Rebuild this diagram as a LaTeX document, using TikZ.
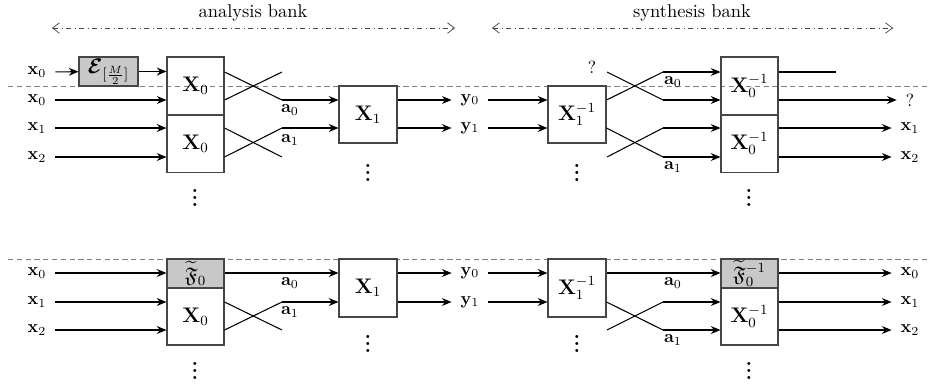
\documentclass[tikz,border=0pt]{standalone}
\usepackage{amssymb}
\usepackage{amsmath}
\usepackage{tikz}
\usetikzlibrary{arrows.meta, positioning, calc}
\definecolor{blkgray} {RGB}{200, 200, 200}
\definecolor{edgegray}{RGB}{ 70,  70,  70}

\tikzset{
	blk/.style={draw=edgegray, semithick, inner sep=0pt, font=\large, minimum width=11.4mm, minimum height=11.6mm},
	halfblk/.style={blk, fill=blkgray, minimum height=5.8mm},
	sig/.style={inner xsep=5pt, inner ysep=1pt},
	more/.style={inner sep=0pt, font=\large\bfseries},
	flow/.style={semithick, -{Stealth[length=5.5pt, width=4.5pt]}},
	wire/.style={semithick},
	bank/.style={draw=edgegray, dash dot, {Straight Barb[length=4pt, width=6pt]}-{Straight Barb[length=4pt, width=6pt]}},
	sep/.style={draw=gray, densely dashed}
}

\begin{document}
\begin{tikzpicture}[x=0.2mm, y=-0.2mm]
	\useasboundingbox (0,0) rectangle (931,384);

	% titles
	\node[font=\fontsize{10.5}{12}\selectfont] (ta) at (253,13) {analysis bank};
	\node[font=\fontsize{10.5}{12}\selectfont] (ts) at (692,13) {synthesis bank};
	\coordinate (ta1) at (52,28);  \coordinate (ta2) at (455,28);
	\coordinate (ts1) at (492,28); \coordinate (ts2) at (893,28);
	\draw[bank] (ta1) -- (ta2);
	\draw[bank] (ts1) -- (ts2);

	% separators
	\coordinate (s1l) at (8,86);  \coordinate (s1r) at (931,86);
	\coordinate (s2l) at (8,259); \coordinate (s2r) at (931,259);
	\draw[sep] (s1l) -- (s1r);
	\draw[sep] (s2l) -- (s2r);

	%%% upper diagram, analysis
	\node[sig] (ue) at (37,72)  {$\mathbf{x}_0$};
	\node[sig] (u0) at (37,100) {$\mathbf{x}_0$};
	\node[sig] (u1) at (37,128) {$\mathbf{x}_1$};
	\node[sig] (u2) at (37,157) {$\mathbf{x}_2$};
	\node[halfblk, minimum width=11.8mm] (E) at (108.5,71.5) {$\boldsymbol{\mathcal{E}}_{[\frac{M}{2}]}$};
	\node[blk] (X0a) at (195.5,86)    {$\mathbf{X}_0$};
	\node[blk] (X0b) at (195.5,143.5) {$\mathbf{X}_0$};
	\node[blk, minimum width=11.6mm, minimum height=11.4mm] (X1a) at (368,114.5) {$\mathbf{X}_1$};
	\node[sig] (uy0) at (470,100) {$\mathbf{y}_0$};
	\node[sig] (uy1) at (470,128) {$\mathbf{y}_1$};

	\draw[flow] (ue) -- (E);
	\draw[flow] (E) -- (E -| X0a.west);
	\draw[flow] (u0) -- (u0 -| X0a.west);
	\draw[flow] (u1) -- (u1 -| X0b.west);
	\draw[flow] (u2) -- (u2 -| X0b.west);

	\coordinate (ua) at (282,72);  \coordinate (ub) at (282,100);
	\coordinate (uc) at (282,128); \coordinate (ud) at (282,157);
	\draw[wire] (X0a.east |- ue) -- (ub);
	\draw[wire] (X0a.east |- u0) -- (ua);
	\draw[wire] (X0b.east |- u1) -- (ud);
	\draw[wire] (X0b.east |- u2) -- (uc);
	\draw[flow] (ub) -- (ub -| X1a.west);
	\draw[flow] (uc) -- (uc -| X1a.west);
	\node (ua0) at (290,110) {$\mathbf{a}_0$};
	\node (ua1) at (290,140) {$\mathbf{a}_1$};

	\draw[flow] (X1a.east |- uy0) -- (uy0);
	\draw[flow] (X1a.east |- uy1) -- (uy1);

	\node[more] (ud1) at (195,193) {\vdots};
	\node[more] (ud2) at (368,168) {\vdots};

	%%% upper diagram, synthesis
	\node[blk, minimum width=11.6mm, minimum height=11.4mm] (Y1a) at (577,114.5) {$\mathbf{X}_1^{-1}$};
	\node[blk] (Y0a) at (749.5,86)    {$\mathbf{X}_0^{-1}$};
	\node[blk] (Y0b) at (749.5,143.5) {$\mathbf{X}_0^{-1}$};
	\draw[flow] (uy0) -- (uy0 -| Y1a.west);
	\draw[flow] (uy1) -- (uy1 -| Y1a.west);

	\coordinate (va) at (607,72);  \coordinate (vb) at (663,72);
	\coordinate (vc) at (663,100); \coordinate (vd) at (663,128);
	\coordinate (ve) at (663,157); \coordinate (vf) at (607,157);
	\node (vq) at (592,67) {?};
	\draw[wire] (Y1a.east |- uy0) -- (vb);
	\draw[wire] (va) -- (vc);
	\draw[wire] (Y1a.east |- uy1) -- (ve);
	\draw[wire] (vf) -- (vd);
	\draw[flow] (vb) -- (vb -| Y0a.west);
	\draw[flow] (vc) -- (vc -| Y0a.west);
	\draw[flow] (vd) -- (vd -| Y0b.west);
	\draw[flow] (ve) -- (ve -| Y0b.west);
	\node (va0) at (673,82)  {$\mathbf{a}_0$};
	\node (va1) at (673,167) {$\mathbf{a}_1$};

	\coordinate (vend) at (836,72);
	\node[sig] (vo0) at (910,100) {?};
	\node[sig] (vo1) at (910,128) {$\mathbf{x}_1$};
	\node[sig] (vo2) at (910,157) {$\mathbf{x}_2$};
	\draw[wire] (Y0a.east |- vb) -- (vend);
	\draw[flow] (Y0a.east |- vo0) -- (vo0);
	\draw[flow] (Y0b.east |- vo1) -- (vo1);
	\draw[flow] (Y0b.east |- vo2) -- (vo2);

	\node[more] (vd1) at (577,168) {\vdots};
	\node[more] (vd2) at (749,193) {\vdots};

	%%% lower diagram, analysis
	\node[sig] (l0) at (37,273) {$\mathbf{x}_0$};
	\node[sig] (l1) at (37,302) {$\mathbf{x}_1$};
	\node[sig] (l2) at (37,330) {$\mathbf{x}_2$};
	\node[halfblk] (F) at (195.5,273.5) {$\widetilde{\mathfrak{F}}_0$};
	\node[blk, minimum height=11.4mm] (X0c) at (195.5,316.5) {$\mathbf{X}_0$};
	\node[blk, minimum width=11.6mm, minimum height=11.6mm] (X1b) at (368,288) {$\mathbf{X}_1$};
	\node[sig] (ly0) at (470,273) {$\mathbf{y}_0$};
	\node[sig] (ly1) at (470,302) {$\mathbf{y}_1$};

	\draw[flow] (l0) -- (l0 -| F.west);
	\draw[flow] (l1) -- (l1 -| X0c.west);
	\draw[flow] (l2) -- (l2 -| X0c.west);

	\coordinate (la) at (282,302); \coordinate (lb) at (282,330);
	\draw[flow] (F.east |- l0) -- (l0 -| X1b.west);
	\draw[wire] (X0c.east |- l1) -- (lb);
	\draw[wire] (X0c.east |- l2) -- (la);
	\draw[flow] (la) -- (la -| X1b.west);
	\node (la0) at (290,283) {$\mathbf{a}_0$};
	\node (la1) at (290,312) {$\mathbf{a}_1$};

	\draw[flow] (X1b.east |- ly0) -- (ly0);
	\draw[flow] (X1b.east |- ly1) -- (ly1);

	\node[more] (ld1) at (195,366) {\vdots};
	\node[more] (ld2) at (368,339) {\vdots};

	%%% lower diagram, synthesis
	\node[blk, minimum width=11.6mm, minimum height=11.6mm] (Y1b) at (577,288) {$\mathbf{X}_1^{-1}$};
	\node[halfblk] (G) at (749.5,273.5) {$\widetilde{\mathfrak{F}}_0^{-1}$};
	\node[blk, minimum height=11.4mm] (Y0c) at (749.5,316.5) {$\mathbf{X}_0^{-1}$};
	\draw[flow] (ly0) -- (ly0 -| Y1b.west);
	\draw[flow] (ly1) -- (ly1 -| Y1b.west);

	\coordinate (ma) at (663,302); \coordinate (mb) at (663,330);
	\coordinate (mc) at (607,330);
	\draw[flow] (Y1b.east |- ly0) -- (ly0 -| G.west);
	\draw[wire] (Y1b.east |- ly1) -- (mb);
	\draw[wire] (mc) -- (ma);
	\draw[flow] (ma) -- (ma -| Y0c.west);
	\draw[flow] (mb) -- (mb -| Y0c.west);
	\node (ma0) at (673,283) {$\mathbf{a}_0$};
	\node (ma1) at (673,340) {$\mathbf{a}_1$};

	\node[sig] (mo0) at (910,273) {$\mathbf{x}_0$};
	\node[sig] (mo1) at (910,302) {$\mathbf{x}_1$};
	\node[sig] (mo2) at (910,330) {$\mathbf{x}_2$};
	\draw[flow] (G.east |- mo0) -- (mo0);
	\draw[flow] (Y0c.east |- mo1) -- (mo1);
	\draw[flow] (Y0c.east |- mo2) -- (mo2);

	\node[more] (md1) at (577,339) {\vdots};
	\node[more] (md2) at (749,366) {\vdots};
\end{tikzpicture}
\end{document}
